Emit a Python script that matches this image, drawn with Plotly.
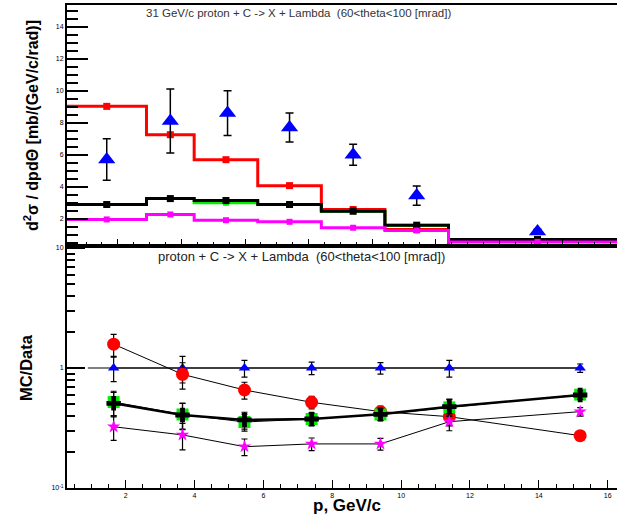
import plotly.graph_objects as go

# ---------------- data ----------------
bin_edges = [0.4, 2.9, 4.4, 6.4, 8.4, 10.4, 12.4, 18.0]
p_points = [1.65, 3.65, 5.45, 7.4, 9.4, 11.4, 15.2]

data_xsec = [5.7, 8.1, 8.6, 7.7, 6.0, 3.45, 1.2]
data_err = [1.3, 2.0, 1.4, 0.9, 0.65, 0.6, 0.15]

mc_red = [9.02, 7.25, 5.69, 4.07, 2.58, 1.33, 0.33]
mc_green = [2.89, 3.26, 3.0, 2.89, 2.47, 1.6, 0.71]
mc_black = [2.89, 3.26, 3.14, 2.89, 2.47, 1.6, 0.71]
mc_magenta = [1.96, 2.27, 1.91, 1.81, 1.44, 1.27, 0.55]

ratio_blue = [1.0, 1.0, 1.0, 1.0, 1.0, 1.0, 1.0]
ratio_blue_err = [0.23, 0.25, 0.16, 0.12, 0.11, 0.16, 0.08]
ratio_red = [1.58, 0.886, 0.656, 0.518, 0.433, 0.393, 0.273]
ratio_red_err = [0.33, 0.22, 0.105, 0.062, 0.048, 0.063, 0.022]
ratio_green = [0.52, 0.41, 0.355, 0.376, 0.41, 0.47, 0.60]
ratio_green_err = [0.12, 0.10, 0.057, 0.045, 0.045, 0.075, 0.048]
ratio_black = [0.508, 0.406, 0.369, 0.376, 0.411, 0.476, 0.596]
ratio_black_err = [0.117, 0.10, 0.059, 0.045, 0.045, 0.076, 0.048]
ratio_magenta = [0.324, 0.277, 0.221, 0.233, 0.233, 0.357, 0.433]
ratio_magenta_err = [0.075, 0.069, 0.035, 0.028, 0.026, 0.057, 0.035]

ref_x = [0.9, 15.2]
ref_y = [1.0, 1.0]

top_title = "31 GeV/c proton + C -&gt; X + Lambda  (60&lt;theta&lt;100 [mrad])"
bottom_title = "proton + C -&gt; X + Lambda  (60&lt;theta&lt;100 [mrad])"

FONT = "Liberation Sans, Arial, Helvetica, sans-serif"

fig = go.Figure()

# ---------------- top panel: histograms ----------------
def hist(values, color, msize, width=3):
    fig.add_trace(go.Scatter(
        x=bin_edges, y=values + [values[-1]], mode="lines", line_shape="hv",
        line=dict(color=color, width=width), xaxis="x", yaxis="y",
        hoverinfo="skip"))
    centers = [(bin_edges[i] + bin_edges[i + 1]) / 2 for i in range(len(values))]
    fig.add_trace(go.Scatter(
        x=centers, y=values, mode="markers",
        marker=dict(symbol="square", size=msize, color=color),
        xaxis="x", yaxis="y"))

hist(mc_red, "#ff0000", 7)
hist(mc_green, "#00ee00", 6)
hist(mc_black, "#000000", 7)
hist(mc_magenta, "#ff00ff", 6)

fig.add_trace(go.Scatter(
    x=p_points, y=data_xsec, mode="markers",
    marker=dict(symbol="triangle-up", size=15, color="#0000ff"),
    error_y=dict(type="data", array=data_err, color="black", thickness=1.5, width=4),
    xaxis="x", yaxis="y"))

# ---------------- bottom panel: ratios ----------------
fig.add_trace(go.Scatter(x=ref_x, y=ref_y, mode="lines",
                         line=dict(color="black", width=1.2), xaxis="x2", yaxis="y2"))

def ratio(vals, errs, color, symbol, size, lw):
    fig.add_trace(go.Scatter(
        x=p_points, y=vals, mode="lines+markers",
        line=dict(color="black", width=lw),
        marker=dict(symbol=symbol, size=size, color=color, line=dict(width=0)),
        error_y=dict(type="data", array=errs, color="black", thickness=1.2, width=3),
        xaxis="x2", yaxis="y2"))

ratio(ratio_blue, ratio_blue_err, "#0000ff", "triangle-up", 10, 1.2)
ratio(ratio_red, ratio_red_err, "#ff0000", "circle", 13, 1.0)
ratio(ratio_green, ratio_green_err, "#00ee00", "square", 12, 1.0)
ratio(ratio_black, ratio_black_err, "#000000", "cross", 12, 2.5)
ratio(ratio_magenta, ratio_magenta_err, "#ff00ff", "star", 10, 1.0)

# ---------------- layout ----------------
split = 242 / 483

axis_common = dict(showline=True, linecolor="black", linewidth=2, ticks="inside",
                   tickcolor="black", showgrid=False, zeroline=False,
                   tickfont=dict(family=FONT, size=7, color="black"))

minor_y_log = [0.2, 0.3, 0.4, 0.5, 0.6, 0.7, 0.8, 0.9, 2, 3, 4, 5, 6, 7, 8, 9]

fig.update_layout(
    width=617, height=516,
    margin=dict(l=67, r=0, t=5, b=28),
    paper_bgcolor="white", plot_bgcolor="white",
    showlegend=False,
    font=dict(family=FONT, color="black"),
    xaxis=dict(domain=[0, 1], anchor="y", range=[0.4, 17.7], mirror=True,
               tickvals=[2, 4, 6, 8, 10, 12, 14, 16], showticklabels=False,
               ticklen=7, tickwidth=1.2,
               minor=dict(dtick=0.5, tick0=0, ticklen=4, ticks="inside", tickcolor="black"),
               **axis_common),
    yaxis=dict(domain=[split, 1], anchor="x", range=[0.3, 15.35],
               tickvals=[2, 4, 6, 8, 10, 12, 14], ticklen=21, tickwidth=1.5,
               minor=dict(dtick=0.5, tick0=0, ticklen=11, ticks="inside", tickcolor="black"),
               **axis_common),
    xaxis2=dict(domain=[0, 1], anchor="y2", range=[0.295, 16.27], mirror=True,
                tickvals=[2, 4, 6, 8, 10, 12, 14, 16], ticklen=8, tickwidth=1.2,
                minor=dict(dtick=0.5, tick0=0, ticklen=4, ticks="inside", tickcolor="black"),
                **axis_common),
    yaxis2=dict(domain=[0, split], anchor="x2", type="log", range=[-1, 1.017],
                tickvals=[0.1, 1, 10], ticktext=["10<sup>-1</sup>", "1", "10"],
                ticklen=18, tickwidth=1.5,
                minor=dict(tickvals=minor_y_log, ticklen=8, ticks="inside", tickcolor="black"),
                **axis_common),
)

annotations = [
    dict(text=top_title, x=0.42, y=0.9834, xref="paper", yref="paper",
         xanchor="center", yanchor="middle",
         showarrow=False, font=dict(family=FONT, size=11.5, color="#333333")),
    dict(text=bottom_title, x=0.427, y=0.4803, xref="paper", yref="paper",
         xanchor="center", yanchor="middle",
         showarrow=False, font=dict(family=FONT, size=13, color="#222222")),
    dict(text="<b>d<sup>2</sup>σ / dpdΘ [mb/(GeV/c/rad)]</b>", x=-0.0655, y=0.7516,
         xref="paper", yref="paper", xanchor="center", yanchor="middle",
         textangle=-90, showarrow=False,
         font=dict(family=FONT, size=16, color="black")),
    dict(text="<b>MC/Data</b>", x=-0.0745, y=0.2484, xref="paper", yref="paper",
         xanchor="center", yanchor="middle",
         textangle=-90, showarrow=False, font=dict(family=FONT, size=16.5, color="black")),
    dict(text="<b>p, GeV/c</b>", x=0.509, y=-0.0352, xref="paper", yref="paper",
         xanchor="center", yanchor="middle",
         showarrow=False, font=dict(family=FONT, size=17, color="black")),
]
fig.update_layout(annotations=annotations)

fig.write_html("out.html")
